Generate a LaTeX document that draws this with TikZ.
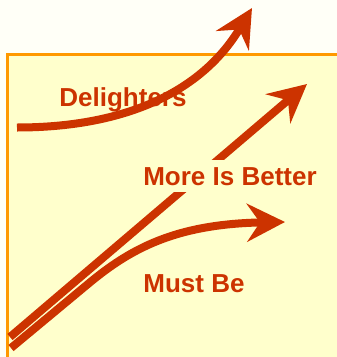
\documentclass[tikz,border=0pt]{standalone}
\usepackage{fontspec}
\setmainfont{Liberation Sans}
\usetikzlibrary{arrows.meta}
\definecolor{ArrowClr}{HTML}{CC3300}
\definecolor{PanelClr}{HTML}{FFFFCC}
\definecolor{FrameClr}{HTML}{FF9900}
\definecolor{PaperClr}{HTML}{FFFFF7}

\begin{document}
\begin{tikzpicture}[x=1pt,y=-1pt,
  curvearrow/.style={line width=8pt,color=ArrowClr,-{Stealth[length=38pt,width=38pt,inset=13pt]}},
  catlbl/.style={text=ArrowClr,font=\fontsize{26}{30}\selectfont\bfseries,inner sep=7pt,anchor=base}]
\fill[PaperClr] (0,0) rectangle (337,357);
\useasboundingbox (0,0) rectangle (337,357);

% panel
\fill[PanelClr] (7.5,54) rectangle (340,360);
\draw[FrameClr,line width=3pt] (7.5,360) -- (7.5,54) -- (340,54);

% end points
\coordinate (DelStart) at (17,127.5);
\coordinate (DelTip) at (252,8);
\coordinate (MoreStart) at (10,337);
\coordinate (MoreTip) at (307,84);
\coordinate (MustStart) at (11,348);
\coordinate (MustBend) at (88,284);
\coordinate (MustTip) at (285,222);

% labels under the top arrow
\node[catlbl] (Del) at (123,106) {Delighters};

% curves
\draw[curvearrow] (DelStart) .. controls (120,127.5) and (200,95) .. (DelTip);
\draw[curvearrow] (MoreStart) -- (MoreTip);
\draw[curvearrow] (MustStart) -- (MustBend) .. controls (130,249) and (175,224) .. (MustTip);

% labels over the lines
\node[catlbl,fill=PanelClr] (More) at (230,185) {More Is Better};
\node[catlbl,fill=PanelClr] (Must) at (194,292) {Must Be};

\end{tikzpicture}
\end{document}
